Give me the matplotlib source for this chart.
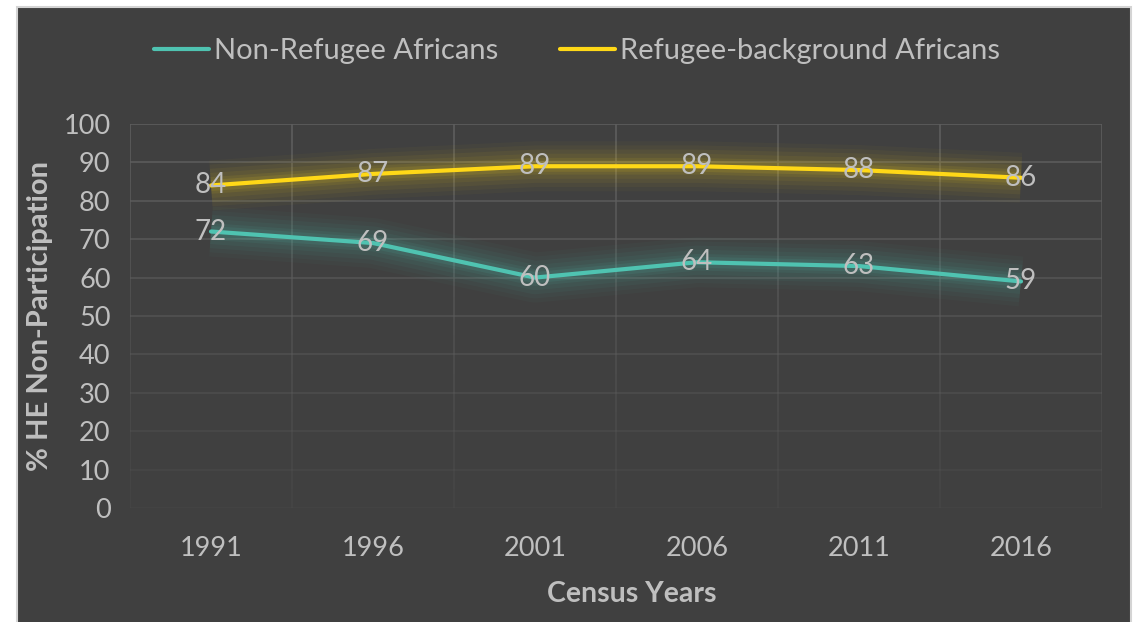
import numpy as np
import matplotlib.pyplot as plt
from matplotlib.patches import Rectangle

plt.rcParams['font.family'] = ['Lato', 'DejaVu Sans']

# 数据
years = ['1991', '1996', '2001', '2006', '2011', '2016']
non_refugee = [72, 69, 60, 64, 63, 59]
refugee = [84, 87, 89, 89, 88, 86]
series_names = ['Non-Refugee Africans', 'Refugee-background Africans']
series_colors = ['#4fc3b1', '#ffd817']

bg = '#404040'
text_c = '#bfbfbf'
grid_c = '#5e5e5e'


def main():
    fig = plt.figure(figsize=(11.38, 6.22), dpi=100)
    fig.patch.set_facecolor('white')
    # 深色图表区域
    fig.patches.append(Rectangle((17 / 1138, -0.01), 1114 / 1138, 1 - 7 / 622 + 0.01,
                                 transform=fig.transFigure, facecolor=bg,
                                 edgecolor='#d4d4d4', linewidth=1.5, zorder=-10))

    ax = fig.add_axes([130 / 1138, 1 - 508 / 622, 972 / 1138, 384 / 622])
    ax.set_facecolor('none')
    x = np.arange(len(years))
    ax.set_xlim(-0.5, len(years) - 0.5)
    ax.set_ylim(0, 100)

    # 渐变网格线（越往下越淡）
    for v in range(0, 101, 10):
        a = 0.15 + 0.85 * v / 100
        ax.axhline(v, color=grid_c, lw=1.2, alpha=a, zorder=1)
    for b in np.arange(-0.5, len(years), 1):
        for v in range(0, 100, 5):
            a = 0.15 + 0.85 * (v + 2.5) / 100
            ax.plot([b, b], [v, v + 5], color=grid_c, lw=1.2, alpha=a,
                    solid_capstyle='butt', zorder=1)

    for vals, col, name in zip([non_refugee, refugee], series_colors, series_names):
        # 发光效果
        for w, a in [(36, 0.03), (30, 0.04), (24, 0.05), (18, 0.06), (12, 0.08), (8, 0.1)]:
            ax.plot(x, vals, color=col, lw=w, alpha=a, solid_capstyle='butt',
                    solid_joinstyle='round', zorder=2)
        ax.plot(x, vals, color=col, lw=3, solid_capstyle='round', zorder=3, label=name)
        for xi, v in zip(x, vals):
            ax.text(xi, v, str(v), ha='center', va='center', color=text_c,
                    fontsize=20, zorder=4)

    ax.set_yticks(range(0, 101, 10))
    ax.set_xticks(x)
    ax.set_xticklabels(years)
    ax.tick_params(colors=text_c, labelsize=19.5, length=0)
    ax.tick_params(axis='y', pad=14)
    ax.tick_params(axis='x', pad=20)
    for s in ax.spines.values():
        s.set_visible(False)

    fig.text(40 / 1138, 1 - 316 / 622, '% HE Non-Participation', rotation=90,
             ha='center', va='center', color=text_c, fontsize=21, fontweight='bold')
    fig.text(632 / 1138, 1 - 594 / 622, 'Census Years', ha='center', va='center',
             color=text_c, fontsize=20.5, fontweight='bold')

    fig.legend(loc='center', bbox_to_anchor=(577 / 1138, 1 - 51 / 622), ncol=2,
               frameon=False, fontsize=21, labelcolor=text_c, handlelength=1.9,
               handletextpad=0.17, columnspacing=2.1)

    fig.savefig('out.png', dpi=100, facecolor=fig.get_facecolor())


if __name__ == "__main__":
    main()
